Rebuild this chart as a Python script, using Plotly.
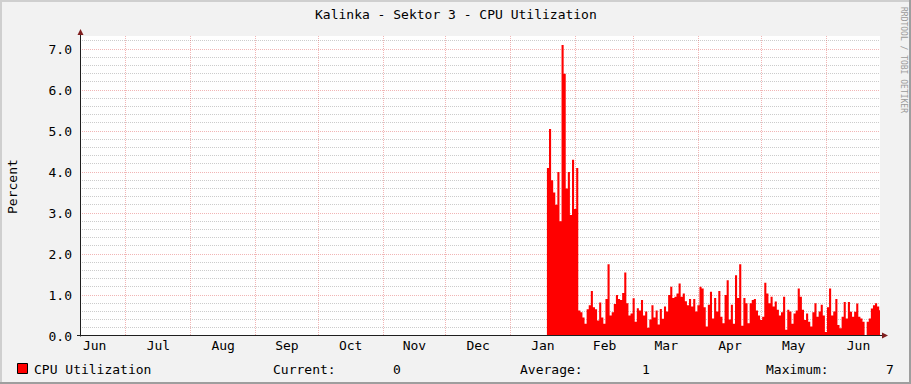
import plotly.graph_objects as go
import pandas as pd

# ---------------- data ----------------
title_text = "Kalinka - Sektor 3 - CPU Utilization"
y_label = "Percent"
series_name = "CPU Utilization"
data_start = "2015-01-18 10:00"          # first daily sample
x_range = ["2014-06-09 00:00", "2015-06-26 19:00"]
y_range = [0, 7.32]

# January burst (daily values, %)
cpu_high = [4.1, 5.05, 3.8, 3.5, 3.2, 4.0, 2.8, 7.1, 6.4, 3.6, 4.0, 2.95, 4.3, 3.1, 4.1]
# February .. June (daily values, %)
cpu_low = [
    0.62, 0.58, 0.45, 0.3, 0.65, 0.75, 1.1, 0.7, 0.65, 0.38, 0.82, 0.45, 0.3, 0.9, 1.75,
    0.5, 0.58, 0.78, 1.0, 0.9, 0.88, 1.05, 1.55, 0.8, 0.5,
    0.55, 0.92, 0.35, 0.68, 0.62, 0.88, 0.5, 0.6, 0.2, 0.4, 0.75, 0.45, 0.62, 0.28, 0.66,
    0.42, 0.72, 0.6, 1.0, 1.2, 0.93, 0.96, 1.04, 1.28, 0.96, 1.04,
    0.85, 0.75, 0.9, 0.72, 0.9, 0.6, 0.75, 1.2, 1.16, 0.7, 0.23, 0.76, 1.08, 0.43, 0.93,
    0.6, 1.1, 0.47, 0.31, 1.0, 1.36, 0.4, 0.76, 0.3, 1.48,
    0.93, 1.75, 0.25, 0.93, 0.8, 0.31, 0.8, 0.88, 0.9, 0.62, 0.5, 0.39, 0.47, 1.3, 1.04,
    0.8, 0.96, 0.72, 0.84, 0.64, 0.5, 0.58, 0.96, 0.15, 0.64,
    0.6, 0.3, 0.55, 0.62, 1.16, 0.96, 0.64, 0.39, 0.55, 0.35, 0.23, 0.58, 0.8, 0.47, 0.6,
    0.76, 0.5, 0.1, 0.7, 1.16, 0.5, 0.6, 0.9, 0.27, 0.19,
    0.47, 0.83, 0.43, 0.83, 0.59, 0.47, 0.59, 0.79, 0.47, 0.43, 0.35, 0.02, 0.35, 0.43,
    0.67, 0.75, 0.8, 0.72, 0.63,
]
legend_labels = ["Current:", "Average:", "Maximum:"]
legend_values = ["0", "1", "7"]
watermark = "RRDTOOL / TOBI OETIKER"

# ---------------- build ----------------
values = cpu_high + cpu_low
dates = pd.date_range(data_start, periods=len(values) + 1, freq="D")
ys = values + [values[-1]]

W, H = 911, 384
L, R, T, B = 80, 31, 36, 48
PW = W - L - R
PH = H - T - B


def px(xp):
    return (xp - L) / PW


def py(yp):
    return (H - B - yp) / PH


FONT = "DejaVu Sans Mono"
GRID = "rgba(143,143,143,0.45)"
MGRID = "rgba(222,79,79,0.42)"
ARROW = "#801F1F"
AXIS = "#1F1F1F"

fig = go.Figure()
fig.add_trace(go.Scatter(
    x=dates, y=ys, mode="lines", name=series_name,
    line=dict(width=0, shape="hv", color="#FF0000"),
    fill="tozeroy", fillcolor="#FF0000", hoverinfo="skip",
))

shapes = []
# 3D frame
shapes.append(dict(type="line", xref="paper", yref="paper", x0=px(0), x1=px(W), y0=py(1), y1=py(1),
                   line=dict(color="#CFCFCF", width=2)))
shapes.append(dict(type="line", xref="paper", yref="paper", x0=px(1), x1=px(1), y0=py(0), y1=py(H),
                   line=dict(color="#CFCFCF", width=2)))
shapes.append(dict(type="line", xref="paper", yref="paper", x0=px(0), x1=px(W), y0=py(H - 1), y1=py(H - 1),
                   line=dict(color="#9E9E9E", width=2)))
shapes.append(dict(type="line", xref="paper", yref="paper", x0=px(W - 1), x1=px(W - 1), y0=py(0), y1=py(H),
                   line=dict(color="#9E9E9E", width=2)))
# axes
shapes.append(dict(type="line", xref="paper", yref="paper", x0=px(80.5), x1=px(80.5), y0=py(336.5), y1=py(33),
                   line=dict(color=AXIS, width=1), layer="above"))
shapes.append(dict(type="line", xref="paper", yref="paper", x0=px(77), x1=px(884), y0=py(335.5), y1=py(335.5),
                   line=dict(color=AXIS, width=1), layer="above"))
# arrows
shapes.append(dict(type="path", xref="paper", yref="paper",
                   path=f"M {px(80.5)},{py(29)} L {px(77.5)},{py(35)} L {px(83.5)},{py(35)} Z",
                   fillcolor=ARROW, line=dict(color=ARROW, width=0), layer="above"))
shapes.append(dict(type="path", xref="paper", yref="paper",
                   path=f"M {px(888)},{py(335.5)} L {px(882)},{py(332.5)} L {px(882)},{py(338.5)} Z",
                   fillcolor=ARROW, line=dict(color=ARROW, width=0), layer="above"))
# legend swatch
shapes.append(dict(type="rect", xref="paper", yref="paper", x0=px(17.5), x1=px(27.5), y0=py(373.5), y1=py(363.5),
                   fillcolor="#FF0000", line=dict(color="#000000", width=1)))

ann = []
ann.append(dict(text=title_text, x=px(455.5), y=py(14), xref="paper", yref="paper",
                showarrow=False, xanchor="center", yanchor="middle",
                font=dict(family=FONT, size=13, color="#000")))
ann.append(dict(text=y_label, x=px(12), y=py(187), xref="paper", yref="paper", textangle=-90,
                showarrow=False, xanchor="center", yanchor="middle",
                font=dict(family=FONT, size=13, color="#000")))
ann.append(dict(text=watermark, x=px(903), y=py(60), xref="paper", yref="paper", textangle=90,
                showarrow=False, xanchor="center", yanchor="middle",
                font=dict(family=FONT, size=8, color="#9A9A9A")))
ann.append(dict(text=series_name, x=px(32), y=py(369), xref="paper", yref="paper",
                showarrow=False, xanchor="left", yanchor="middle",
                font=dict(family=FONT, size=13, color="#000")))
label_x = [270.5, 518, 763.5]
value_x = [390.5, 639.5, 883.5]
for lab, val, lx, vx in zip(legend_labels, legend_values, label_x, value_x):
    ann.append(dict(text=lab, x=px(lx), y=py(369), xref="paper", yref="paper",
                    showarrow=False, xanchor="left", yanchor="middle",
                    font=dict(family=FONT, size=13, color="#000")))
    ann.append(dict(text=val, x=px(vx), y=py(369), xref="paper", yref="paper",
                    showarrow=False, xanchor="left", yanchor="middle",
                    font=dict(family=FONT, size=13, color="#000")))

fig.update_layout(
    width=W, height=H,
    margin=dict(l=L, r=R, t=T, b=B, pad=0),
    paper_bgcolor="#F2F2F2", plot_bgcolor="#FFFFFF",
    showlegend=False,
    font=dict(family=FONT, size=13, color="#000"),
    shapes=shapes, annotations=ann,
    xaxis=dict(
        type="date", range=x_range, dtick="M1", tick0="2014-06-01",
        tickformat="%b", ticklabelmode="period",
        showgrid=True, gridcolor=MGRID, griddash="1px,1px", gridwidth=1,
        ticks="", showline=False, zeroline=False, fixedrange=True,
        tickfont=dict(family=FONT, size=13, color="#000"),
    ),
    yaxis=dict(
        range=y_range, dtick=1, tick0=0, tickformat=".1f",
        showgrid=True, gridcolor=MGRID, griddash="1px,1px", gridwidth=1,
        minor=dict(dtick=0.2, tick0=0, showgrid=True, gridcolor=GRID, griddash="1px,1px", gridwidth=1),
        ticks="", showline=False, zeroline=False, fixedrange=True,
        ticklabelstandoff=7,
        tickfont=dict(family=FONT, size=13, color="#000"),
    ),
)

fig.write_html("out.html", config={"displayModeBar": False})
